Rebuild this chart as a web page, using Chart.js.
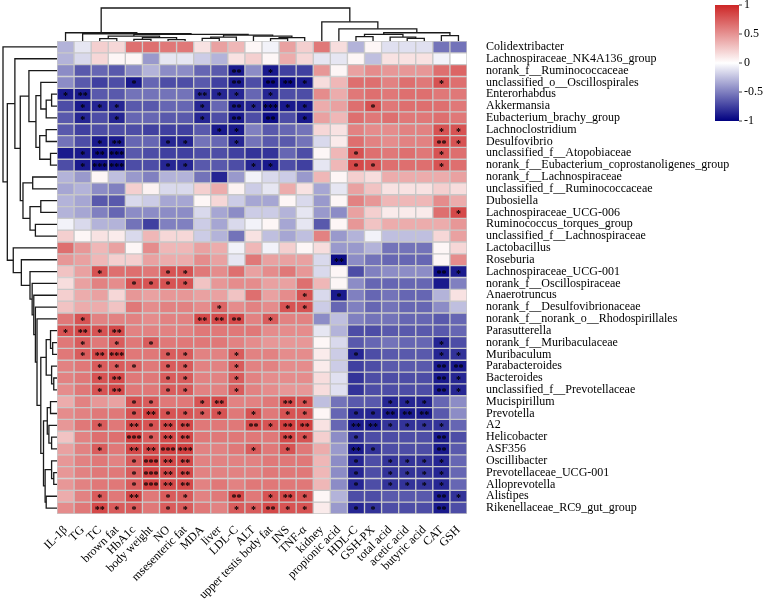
<!DOCTYPE html>
<html>
<head>
<meta charset="utf-8">
<script src="https://cdn.jsdelivr.net/npm/chart.js@4.4.0/dist/chart.umd.min.js"></script>
<style>
  body { margin: 0; background: #fff; }
  #wrap { width: 767px; height: 603px; }
</style>
</head>
<body>
<div id="wrap"><canvas id="heatChart"></canvas></div>
<script>
// -- ** data ** -- \\
const columns = ["IL-1β", "TG", "TC", "brown fat", "HbA1c", "body weight", "NO", "msesenteric fat",
  "MDA", "liver", "LDL-C", "ALT", "upper testis body fat", "INS", "TNF-α", "kidney",
  "propionic acid", "HDL-C", "GSH-PX", "total acid", "acetic acid", "butyric acid", "CAT", "GSH"];

const rowNames = ["Colidextribacter", "Lachnospiraceae_NK4A136_group", "norank_f__Ruminococcaceae",
  "unclassified_o__Oscillospirales", "Enterorhabdus", "Akkermansia", "Eubacterium_brachy_group",
  "Lachnoclostridium", "Desulfovibrio", "unclassified_f__Atopobiaceae",
  "norank_f__Eubacterium_coprostanoligenes_group", "norank_f__Lachnospiraceae",
  "unclassified_f__Ruminococcaceae", "Dubosiella", "Lachnospiraceae_UCG-006",
  "Ruminococcus_torques_group", "unclassified_f__Lachnospiraceae", "Lactobacillus", "Roseburia",
  "Lachnospiraceae_UCG-001", "norank_f__Oscillospiraceae", "Anaerotruncus",
  "norank_f__Desulfovibrionaceae", "norank_f__norank_o__Rhodospirillales", "Parasutterella",
  "norank_f__Muribaculaceae", "Muribaculum", "Parabacteroides", "Bacteroides",
  "unclassified_f__Prevotellaceae", "Mucispirillum", "Prevotella", "A2", "Helicobacter", "ASF356",
  "Oscillibacter", "Prevotellaceae_UCG-001", "Alloprevotella", "Alistipes",
  "Rikenellaceae_RC9_gut_group"];

// correlation, one line per genus (same order as rowNames)
const corr = [
  [-0.3,-0.1,0.15,0.12,0.6,0.6,0.55,0.55,0.08,0.35,0.25,0.02, -0.05,0.35,0.15,0.55,0.1,-0.3,0.02,-0.12,-0.12,-0.12,-0.55,-0.55],
  [-0.3,-0.15,0.12,0.02,0.02,-0.4,-0.1,-0.1,-0.2,-0.3,0.08,0.15, 0.02,0.3,0.12,-0.1,-0.1,0.02,-0.25,0.08,0.08,0.08,-0.05,0.0],
  [-0.45,-0.65,-0.6,-0.65,-0.45,-0.3,-0.45,-0.45,-0.6,-0.65,-0.9,-0.45, -0.9,-0.75,-0.75,0.4,0.02,0.35,0.45,0.4,0.4,0.4,0.6,0.65],
  [-0.45,-0.65,-0.75,-0.7,-0.9,-0.6,-0.7,-0.7,-0.65,-0.75,-0.9,-0.7, -0.95,-0.95,-0.9,0.1,0.25,0.6,0.6,0.5,0.6,0.55,0.75,0.6],
  [-0.9,-0.9,-0.65,-0.65,-0.55,-0.55,-0.55,-0.55,-0.85,-0.85,-0.85,-0.6, -0.85,-0.7,-0.7,0.45,0.3,0.55,0.6,0.55,0.6,0.6,0.55,0.55],
  [-0.7,-0.9,-0.85,-0.85,-0.65,-0.65,-0.6,-0.6,-0.85,-0.6,-0.9,-0.85, -0.95,-0.9,-0.9,0.3,0.35,0.6,0.75,0.55,0.6,0.6,0.6,0.55],
  [-0.65,-0.85,-0.7,-0.85,-0.6,-0.6,-0.65,-0.65,-0.85,-0.7,-0.9,-0.7, -0.95,-0.7,-0.9,0.35,0.25,0.6,0.55,0.6,0.55,0.55,0.6,0.55],
  [-0.65,-0.75,-0.7,-0.7,-0.7,-0.75,-0.75,-0.75,-0.65,-0.9,-0.9,-0.5, -0.65,-0.6,-0.55,0.12,0.08,0.5,0.45,0.45,0.5,0.5,0.75,0.75],
  [-0.55,-0.7,-0.9,-0.9,-0.6,-0.6,-0.85,-0.85,-0.55,-0.6,-0.85,-0.55, -0.65,-0.65,-0.55,-0.15,0.05,0.6,0.5,0.45,0.5,0.5,0.8,0.75],
  [-0.9,-0.9,-0.95,-0.95,-0.65,-0.7,-0.75,-0.75,-0.7,-0.7,-0.75,-0.8, -0.8,-0.6,-0.7,0.02,0.25,0.75,0.6,0.55,0.6,0.55,0.75,0.6],
  [-0.7,-0.9,-0.95,-0.95,-0.7,-0.7,-0.85,-0.85,-0.65,-0.65,-0.7,-0.85, -0.9,-0.7,-0.75,-0.1,0.25,0.8,0.75,0.6,0.6,0.6,0.75,0.6],
  [-0.3,-0.4,0.02,-0.25,-0.4,-0.5,-0.3,-0.3,-0.55,-0.85,-0.4,-0.05, -0.15,-0.2,-0.4,0.25,0.02,0.15,0.1,0.3,0.3,0.3,0.3,0.35],
  [-0.35,-0.3,-0.45,-0.5,0.15,0.03,-0.15,-0.15,0.15,0.3,0.03,-0.2, -0.1,0.3,0.08,-0.35,-0.1,0.35,0.2,0.08,0.08,0.08,0.15,0.1],
  [-0.3,-0.35,-0.65,-0.65,-0.15,-0.2,-0.35,-0.35,0.02,0.12,-0.2,-0.35, -0.35,0.02,-0.15,-0.4,0.02,0.5,0.4,0.25,0.25,0.25,0.45,0.3],
  [-0.3,-0.35,-0.5,-0.6,-0.45,-0.45,-0.45,-0.45,-0.15,-0.35,-0.45,-0.2, -0.2,-0.3,-0.1,-0.4,-0.45,0.35,0.15,0.05,0.05,0.05,0.6,0.8],
  [-0.05,-0.15,-0.3,-0.3,-0.55,-0.75,-0.5,-0.5,-0.2,-0.35,-0.15,-0.05, 0.02,-0.35,-0.1,-0.65,0.02,0.4,0.2,0.3,0.3,0.3,0.3,0.4],
  [0.15,0.02,0.08,0.05,-0.15,0.25,0.12,0.12,-0.2,-0.3,-0.55,0.08, -0.25,-0.35,-0.25,0.5,-0.4,-0.3,-0.05,-0.25,-0.25,-0.25,0.12,0.35],
  [0.6,0.4,0.25,0.35,0.02,0.45,0.25,0.25,0.35,0.3,-0.05,0.25, -0.05,0.15,0.02,0.1,-0.4,-0.4,-0.3,-0.55,-0.55,-0.55,0.02,0.12],
  [0.4,0.35,0.25,0.15,0.15,0.35,0.3,0.3,0.45,0.35,-0.1,0.55, 0.35,0.35,0.35,-0.15,-0.95,-0.45,-0.55,-0.6,-0.6,-0.6,0.02,0.45],
  [0.2,0.35,0.75,0.6,0.6,0.55,0.75,0.75,0.55,0.45,0.6,0.35, 0.45,0.55,0.4,-0.15,0.02,-0.7,-0.5,-0.45,-0.45,-0.45,-0.95,-0.9],
  [0.1,0.35,0.5,0.45,0.75,0.75,0.75,0.75,0.2,0.4,0.45,0.45, 0.35,0.35,0.6,0.25,0.02,-0.45,-0.6,-0.6,-0.6,-0.6,-0.9,-0.5],
  [0.15,0.3,0.35,0.12,0.4,0.35,0.4,0.4,0.35,0.35,0.2,0.6, 0.35,0.45,0.75,-0.15,-0.9,-0.5,-0.6,-0.55,-0.6,-0.6,-0.3,0.08],
  [0.2,0.3,0.3,0.2,0.55,0.45,0.5,0.5,0.45,0.65,0.45,0.5, 0.45,0.75,0.75,-0.2,-0.6,-0.5,-0.6,-0.55,-0.6,-0.6,-0.45,-0.25],
  [0.55,0.75,0.5,0.5,0.5,0.45,0.5,0.5,0.8,0.8,0.8,0.5, 0.7,0.5,0.5,-0.45,-0.25,-0.5,-0.55,-0.55,-0.6,-0.6,-0.65,-0.6],
  [0.75,0.8,0.75,0.8,0.5,0.5,0.5,0.5,0.55,0.55,0.55,0.55, 0.45,0.45,0.45,-0.1,-0.3,-0.7,-0.7,-0.65,-0.65,-0.65,-0.65,-0.6],
  [0.55,0.7,0.55,0.7,0.55,0.7,0.55,0.55,0.55,0.55,0.5,0.45, 0.4,0.4,0.4,0.02,-0.15,-0.65,-0.6,-0.55,-0.6,-0.6,-0.85,-0.7],
  [0.55,0.7,0.8,0.85,0.55,0.55,0.7,0.7,0.5,0.5,0.7,0.5, 0.5,0.45,0.45,0.05,-0.2,-0.85,-0.7,-0.65,-0.65,-0.65,-0.85,-0.8],
  [0.5,0.55,0.7,0.7,0.65,0.55,0.7,0.7,0.5,0.5,0.7,0.5, 0.5,0.45,0.45,0.05,-0.2,-0.75,-0.7,-0.65,-0.65,-0.65,-0.9,-0.9],
  [0.5,0.55,0.75,0.8,0.55,0.55,0.7,0.7,0.5,0.5,0.7,0.5, 0.45,0.45,0.45,0.1,-0.12,-0.8,-0.7,-0.7,-0.7,-0.7,-0.9,-0.85],
  [0.45,0.55,0.75,0.8,0.55,0.55,0.7,0.7,0.5,0.5,0.7,0.5, 0.45,0.4,0.4,0.1,-0.12,-0.8,-0.7,-0.7,-0.7,-0.7,-0.9,-0.85],
  [0.3,0.5,0.4,0.35,0.75,0.7,0.55,0.55,0.75,0.8,0.5,0.5, 0.55,0.8,0.75,-0.25,-0.55,-0.65,-0.65,-0.85,-0.85,-0.85,-0.6,-0.45],
  [0.45,0.5,0.55,0.55,0.75,0.85,0.75,0.75,0.7,0.75,0.55,0.75, 0.55,0.75,0.75,0.02,-0.6,-0.85,-0.85,-0.9,-0.9,-0.9,-0.65,-0.45],
  [0.4,0.55,0.7,0.55,0.8,0.75,0.8,0.8,0.55,0.55,0.55,0.8, 0.75,0.85,0.85,0.08,-0.6,-0.9,-0.9,-0.8,-0.8,-0.8,-0.8,-0.6],
  [0.2,0.5,0.6,0.6,0.85,0.7,0.8,0.8,0.55,0.55,0.55,0.55, 0.55,0.8,0.75,0.15,-0.45,-0.8,-0.7,-0.7,-0.7,-0.7,-0.9,-0.7],
  [0.35,0.5,0.7,0.55,0.8,0.8,0.85,0.85,0.5,0.5,0.55,0.7, 0.55,0.75,0.55,0.3,-0.4,-0.9,-0.8,-0.7,-0.7,-0.7,-0.9,-0.65],
  [0.4,0.5,0.55,0.5,0.7,0.85,0.8,0.8,0.5,0.5,0.5,0.5, 0.55,0.55,0.55,0.25,-0.45,-0.85,-0.7,-0.8,-0.8,-0.8,-0.85,-0.6],
  [0.4,0.5,0.55,0.55,0.7,0.85,0.8,0.8,0.5,0.5,0.5,0.5, 0.55,0.55,0.55,0.25,-0.45,-0.85,-0.7,-0.8,-0.8,-0.8,-0.85,-0.6],
  [0.4,0.5,0.55,0.55,0.7,0.85,0.8,0.8,0.5,0.55,0.5,0.55, 0.55,0.55,0.55,0.25,-0.45,-0.85,-0.7,-0.8,-0.8,-0.8,-0.85,-0.6],
  [0.3,0.5,0.7,0.55,0.8,0.55,0.7,0.7,0.5,0.55,0.8,0.55, 0.75,0.8,0.75,0.02,-0.3,-0.7,-0.7,-0.65,-0.65,-0.65,-0.9,-0.8],
  [0.45,0.55,0.8,0.7,0.7,0.55,0.7,0.7,0.55,0.5,0.7,0.7, 0.8,0.75,0.75,0.05,-0.4,-0.85,-0.8,-0.7,-0.7,-0.7,-0.9,-0.7]
];

// significance stars: {column index: number of stars}, one entry per genus
const stars = [
  {}, {},
  {10:2, 12:1},
  {4:1, 10:2, 12:2, 13:2, 14:1, 22:1},
  {0:1, 1:2, 8:2, 9:1, 10:1, 12:1},
  {1:1, 2:1, 3:1, 8:1, 10:2, 11:1, 12:3, 13:1, 14:1, 18:1},
  {1:1, 3:1, 8:1, 10:2, 12:2, 14:1},
  {9:1, 10:1, 22:1, 23:1},
  {2:1, 3:2, 6:1, 7:1, 10:1, 22:2, 23:1},
  {1:1, 2:2, 3:3, 17:1, 22:1},
  {1:1, 2:3, 3:3, 6:1, 7:1, 11:1, 12:1, 17:1, 18:1, 22:1},
  {}, {}, {},
  {23:1},
  {}, {}, {},
  {16:2},
  {2:1, 6:1, 7:1, 22:2, 23:1},
  {4:1, 5:1, 6:1, 7:1},
  {14:1, 16:1},
  {9:1, 13:1, 14:1},
  {1:1, 8:2, 9:2, 10:2, 12:1},
  {0:1, 1:2, 2:1, 3:2},
  {1:1, 3:1, 5:1, 22:1},
  {1:1, 2:2, 3:3, 6:1, 7:1, 10:1, 17:1, 22:1, 23:1},
  {2:1, 3:1, 4:1, 6:1, 7:1, 10:1, 22:2, 23:2},
  {2:1, 3:2, 6:1, 7:1, 10:1, 22:2, 23:1},
  {2:1, 3:2, 6:1, 7:1, 10:1, 22:2, 23:1},
  {4:1, 5:1, 8:1, 9:2, 13:2, 14:1, 19:1, 20:1, 21:1},
  {4:1, 5:2, 6:1, 7:1, 8:1, 9:1, 11:1, 13:1, 14:1, 17:1, 18:1, 19:2, 20:2, 21:2},
  {2:1, 4:2, 5:1, 6:2, 7:2, 11:2, 12:1, 13:2, 14:2, 17:2, 18:2, 19:1, 20:1, 21:1, 22:1},
  {4:3, 5:1, 6:2, 7:2, 13:2, 14:1, 17:1, 22:2},
  {2:1, 4:2, 5:2, 6:3, 7:3, 11:1, 13:1, 17:2, 18:1, 22:2},
  {4:1, 5:3, 6:2, 7:2, 17:1, 19:1, 20:1, 21:1, 22:1},
  {4:1, 5:3, 6:2, 7:2, 17:1, 19:1, 20:1, 21:1, 22:1},
  {4:1, 5:3, 6:2, 7:2, 17:1, 19:1, 20:1, 21:1, 22:1},
  {2:1, 4:2, 6:1, 7:1, 10:2, 12:1, 13:2, 14:1, 22:2, 23:1},
  {2:2, 3:1, 4:1, 6:1, 7:1, 10:1, 11:1, 12:2, 13:1, 14:1, 17:1, 18:1, 22:2}
];

// dendrograms: [height, left, right], leaf = index
const colTree = [1.0,
  [0.25, 0,
    [0.22, 1,
      [0.2,
        [0.15, [0.07, 2, 3], [0.1, [0.05, 4, 5], [0.04, 6, 7]]],
        [0.18, [0.12, [0.08, 8, 9], 10], [0.15, 11, [0.1, [0.07, 12, 13], 14]]]]]],
  [0.58, 15,
    [0.37, 16,
      [0.25, [0.2, [0.13, 17, 18], [0.12, 19, [0.08, 20, 21]]], [0.16, 22, 23]]]]
];

const rowTree = [1.0, 0,
  [0.92,
    [0.78, 1,
      [0.68,
        [0.52, 2,
          [0.39, [0.3, 3, [0.2, [0.1, 4, 5], 6]], [0.32, [0.2, 7, 8], [0.12, 9, 10]]]],
        [0.63, [0.45, 11, 12], [0.5, [0.3, 13, 14], [0.4, 15, 16]]]]],
    [0.81, 17,
      [0.66, 18,
        [0.5, 19,
          [0.46, 20,
            [0.43, 21,
              [0.4, 22,
                [0.37, 23,
                  [0.3,
                    [0.2, [0.12, 24, [0.08, 25, 26]], [0.1, 27, [0.06, 28, 29]]],
                    [0.25, [0.18, [0.12, 30, 31], [0.15, 32, [0.1, 33, 34]]],
                      [0.22, [0.1, 35, [0.06, 36, 37]], [0.2, 38, 39]]]]]]]]]]]]
];

const legendTicks = [1, 0.5, 0, -0.5, -1];

// -- ** colours ** -- \\
const lowColor = [0, 0, 128];      // navy
const highColor = [205, 38, 38];   // firebrick3

function cellColor(v) {
  const c = v >= 0 ? highColor : lowColor;
  let t = Math.min(Math.abs(v), 1);
  if (v > 0) t = Math.pow(t, 0.8);
  const r = Math.round(255 + (c[0] - 255) * t);
  const g = Math.round(255 + (c[1] - 255) * t);
  const b = Math.round(255 + (c[2] - 255) * t);
  return `rgb(${r},${g},${b})`;
}

// -- ** datasets: one floating bar row per genus ** -- \\
const datasets = rowNames.map((name, i) => ({
  label: name,
  data: columns.map(() => [i - 0.5, i + 0.5]),
  backgroundColor: corr[i].map(cellColor),
  borderColor: '#c8c8c8',
  borderWidth: 1,
  borderSkipped: false,
  grouped: false,
  barPercentage: 1,
  categoryPercentage: 1
}));

// -- ** plugins ** -- \\
function drawTree(ctx, node, pos, lvl, horizontal) {
  if (typeof node === 'number') return { p: pos(node), h: lvl(0) };
  const a = drawTree(ctx, node[1], pos, lvl, horizontal);
  const b = drawTree(ctx, node[2], pos, lvl, horizontal);
  const h = lvl(node[0]);
  ctx.beginPath();
  if (horizontal) {
    ctx.moveTo(a.p, a.h); ctx.lineTo(a.p, h);
    ctx.lineTo(b.p, h); ctx.lineTo(b.p, b.h);
  } else {
    ctx.moveTo(a.h, a.p); ctx.lineTo(h, a.p);
    ctx.lineTo(h, b.p); ctx.lineTo(b.h, b.p);
  }
  ctx.stroke();
  return { p: (a.p + b.p) / 2, h: h };
}

const heatExtras = {
  id: 'heatExtras',
  afterDatasetsDraw(chart) {
    const ctx = chart.ctx;
    ctx.save();
    ctx.fillStyle = '#000';
    ctx.font = 'bold 10px "Liberation Serif"';
    ctx.textAlign = 'center';
    ctx.textBaseline = 'alphabetic';
    stars.forEach((row, i) => {
      const meta = chart.getDatasetMeta(i);
      Object.keys(row).forEach(k => {
        const el = meta.data[+k];
        const cy = (el.y + el.base) / 2;
        ctx.fillText('*'.repeat(row[k]), el.x, cy + 5);
      });
    });
    ctx.restore();
  },
  afterDraw(chart) {
    const ctx = chart.ctx;
    const area = chart.chartArea;
    const xs = chart.scales.x;
    const ys = chart.scales.y;
    ctx.save();
    ctx.strokeStyle = '#1a1a1a';
    ctx.lineWidth = 1.3;
    drawTree(ctx, colTree, i => xs.getPixelForValue(i), h => area.top - h * (area.top - 8), true);
    drawTree(ctx, rowTree, i => ys.getPixelForValue(i), h => area.left - h * (area.left - 3), false);

    // colour key
    const kx = 715, kw = 24, kTop = 5, kBottom = 121;
    const grad = ctx.createLinearGradient(0, kTop, 0, kBottom);
    grad.addColorStop(0, cellColor(1));
    grad.addColorStop(0.5, cellColor(0));
    grad.addColorStop(1, cellColor(-1));
    ctx.fillStyle = grad;
    ctx.fillRect(kx, kTop, kw, kBottom - kTop);
    ctx.fillStyle = '#000';
    ctx.strokeStyle = '#444';
    ctx.lineWidth = 1;
    ctx.font = '12px "Liberation Serif"';
    ctx.textAlign = 'left';
    ctx.textBaseline = 'middle';
    legendTicks.forEach(t => {
      const y = kTop + (1 - t) / 2 * (kBottom - kTop);
      ctx.beginPath();
      ctx.moveTo(kx + kw, y); ctx.lineTo(kx + kw + 3, y);
      ctx.stroke();
      ctx.fillText(String(t), kx + kw + 5, y);
    });
    ctx.restore();
  }
};

// -- ** chart ** -- \\
const serif = '"Liberation Serif", "Times New Roman", serif';

new Chart(document.getElementById('heatChart'), {
  type: 'bar',
  data: { labels: columns, datasets: datasets },
  options: {
    responsive: true,
    maintainAspectRatio: false,
    animation: false,
    layout: { padding: { left: 57, top: 41, right: 0, bottom: 0 } },
    plugins: { legend: { display: false }, tooltip: { enabled: false } },
    scales: {
      x: {
        type: 'category',
        grid: { display: false },
        border: { display: false },
        ticks: {
          color: '#000',
          font: { family: serif, size: 12 },
          maxRotation: 45,
          minRotation: 45,
          autoSkip: false,
          padding: 1
        },
        afterFit(scale) { scale.height = 89; }
      },
      y: {
        type: 'linear',
        position: 'right',
        reverse: true,
        min: -0.5,
        max: 39.5,
        grid: { display: false },
        border: { display: false },
        afterBuildTicks(scale) {
          scale.ticks = rowNames.map((n, i) => ({ value: i }));
        },
        ticks: {
          color: '#000',
          font: { family: serif, size: 12 },
          autoSkip: false,
          padding: 11,
          callback: v => rowNames[v]
        },
        afterFit(scale) { scale.width = 300; }
      }
    }
  },
  plugins: [heatExtras]
});
</script>
</body>
</html>
